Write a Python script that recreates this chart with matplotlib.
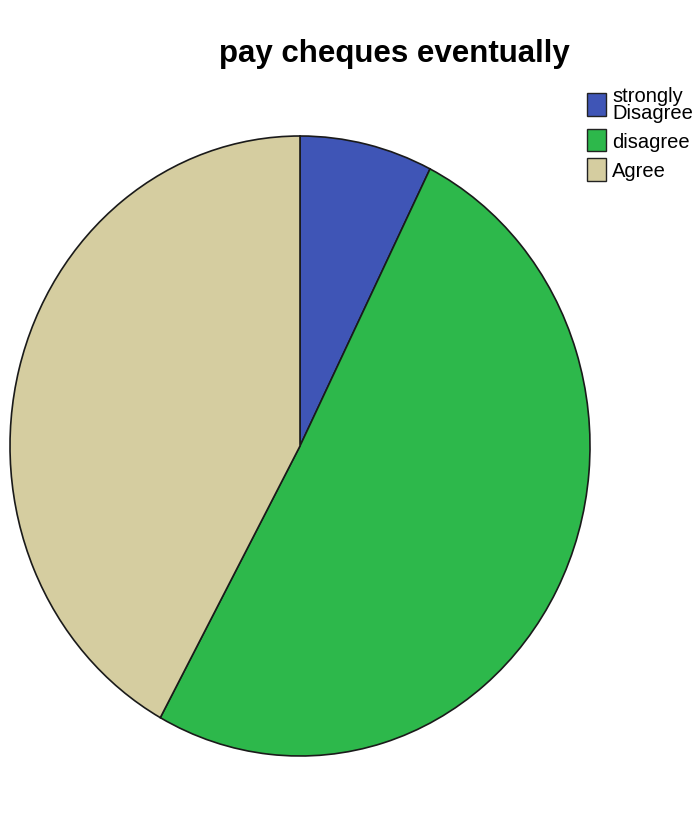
import matplotlib
matplotlib.use("Agg")
import matplotlib.pyplot as plt
from matplotlib.patches import Patch

categories = ["strongly\nDisagree", "disagree", "Agree"]
values = [7.4, 50.6, 42.0]
colors = ["#3F55B6", "#2DB84B", "#D5CDA0"]
title = "pay cheques eventually"

plt.rcParams['font.family'] = ['Liberation Sans', 'DejaVu Sans']

fig = plt.figure(figsize=(7, 8.28), dpi=100)
ax = fig.add_axes([10/700, (828-757)/828, 580/700, 620/828])
ax.pie(values, colors=colors, startangle=90, counterclock=False,
       wedgeprops=dict(edgecolor="#1a1a1a", linewidth=1.2))
ax.set_aspect('auto')
ax.set_xlim(-1.0, 1.0)
ax.set_ylim(-1.0, 1.0)
ax.axis('off')

fig.text(394/700, 1 - 54/828, title, ha='center', va='center',
         fontsize=22.5, fontweight='bold')

handles = [Patch(facecolor=c, edgecolor="#222222", linewidth=1) for c in colors]
leg = fig.legend(handles, categories, loc='upper left', bbox_to_anchor=(587/700, 1 - 87/828),
           frameon=False, fontsize=14.5, handlelength=0.95, handleheight=1.35,
           handletextpad=0.3, labelspacing=0.35, borderaxespad=0, borderpad=0)
for t in leg.get_texts():
    t.set_linespacing(0.85)

fig.savefig("out.png", dpi=100)
